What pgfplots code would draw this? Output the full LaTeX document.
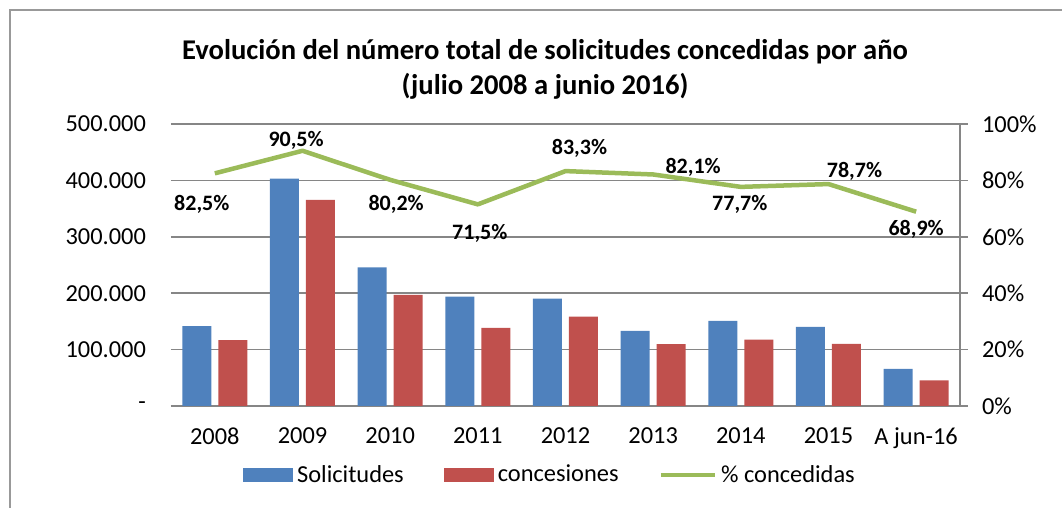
\documentclass[border=0pt]{standalone}
\usepackage{pgfplots}
\usepackage{pgfplotstable}
\pgfplotsset{compat=1.18}
\usepackage{fontspec}
\setmainfont{Carlito}

\definecolor{bblue}{HTML}{4F81BD}
\definecolor{bred}{HTML}{C0504D}
\definecolor{lgreen}{HTML}{9BBB59}
\definecolor{gridgray}{HTML}{868686}

% x  solicitudes  concesiones  pct  label offsets (pt)
\pgfplotstableread{
x sol con pct dx dy lab
0 141500 116700 82.5 -6.5 -15.5 82,5
1 403300 365600 90.5 -3.2 5.0 90,5
2 245900 196900 80.2 3.0 -12.5 80,2
3 194000 138600 71.5 1.0 -14.3 71,5
4 190400 158600 83.3 7.0 11.5 83,3
5 133300 109700 82.1 20.0 3.3 82,1
6 150900 117900 77.7 -0.5 -9.0 77,7
7 140300 110300 78.7 13.0 6.2 78,7
8 66000 45400 68.9 0.0 -8.6 68,9
}\datatable

\begin{document}
\begin{tikzpicture}
\useasboundingbox (-85.5pt,-51pt) rectangle (445.5pt,203pt);
\draw[gray!80, line width=0.8pt] (-80.5pt,-70pt) -- (-80.5pt,198pt) -- (470pt,198pt);

\node[font=\bfseries\fontsize{14.3}{17.5}\selectfont, align=center] at (187pt,168.5pt)
  {Evolución del número total de solicitudes concedidas por año\\(julio 2008 a junio 2016)};

\begin{axis}[
  scale only axis, width=394.5pt, height=141pt,
  xmin=-0.5, xmax=8.5, ymin=0, ymax=500000,
  ybar=3.5pt, bar width=14.5pt,
  xtick={0,...,8},
  xticklabels={2008,2009,2010,2011,2012,2013,2014,2015,A jun-16},
  ytick={0,100000,200000,300000,400000,500000},
  yticklabels={-\hspace{6pt},100.000,200.000,300.000,400.000,500.000},
  scaled y ticks=false,
  ymajorgrids, grid style={color=gridgray, line width=0.75pt},
  axis x line*=bottom, axis y line*=left,
  y axis line style={draw=none},
  x axis line style={color=gridgray, line width=0.75pt},
  major tick length=0pt,
  tick label style={font=\fontsize{12.2}{14}\selectfont, text=black},
  yticklabel style={xshift=-9pt},
  xticklabel style={yshift=-7.5pt},
  legend style={at={(0.4816,-0.245)}, anchor=center, draw=none,
    font=\fontsize{12.2}{14}\selectfont, legend columns=-1,
    /tikz/every even column/.append style={column sep=18pt},
    inner sep=0pt},
  legend cell align=left,
]
\addplot[fill=bblue, draw=none,
  legend image code/.code={\fill[bblue] (0pt,-3.5pt) rectangle (25pt,3.5pt);}]
  table[x=x, y=sol] {\datatable};
\addplot[fill=bred, draw=none,
  legend image code/.code={\fill[bred] (0pt,-3.5pt) rectangle (25pt,3.5pt);}]
  table[x=x, y=con] {\datatable};
\addlegendimage{legend image code/.code={\draw[lgreen, line width=2.25pt] (0pt,0pt) -- (27pt,0pt);}}
\legend{Solicitudes,concesiones,\% concedidas}
\end{axis}

\begin{axis}[
  scale only axis, width=394.5pt, height=141pt,
  xmin=-0.5, xmax=8.5, ymin=0, ymax=100,
  axis x line=none, axis y line*=right,
  ytick={0,20,40,60,80,100},
  yticklabels={0\%,20\%,40\%,60\%,80\%,100\%},
  y axis line style={color=gridgray, line width=0.75pt},
  tick style={color=gridgray, line width=0.75pt},
  tick align=outside, major tick length=4pt,
  tick label style={font=\fontsize{12.2}{14}\selectfont, text=black},
  yticklabel style={xshift=3.5pt},
]
\addplot[lgreen, line width=2.25pt, line join=round, mark=none,
  point meta=explicit symbolic,
  nodes near coords={\pgfplotspointmeta\%},
  visualization depends on={\thisrow{dx} \as \dx},
  visualization depends on={\thisrow{dy} \as \dy},
  every node near coord/.append style={anchor=center, text=black,
    font=\bfseries\fontsize{11}{13}\selectfont, xshift=\dx pt, yshift=\dy pt}]
  table[x=x, y=pct, meta=lab] {\datatable};
\end{axis}
\end{tikzpicture}
\end{document}
